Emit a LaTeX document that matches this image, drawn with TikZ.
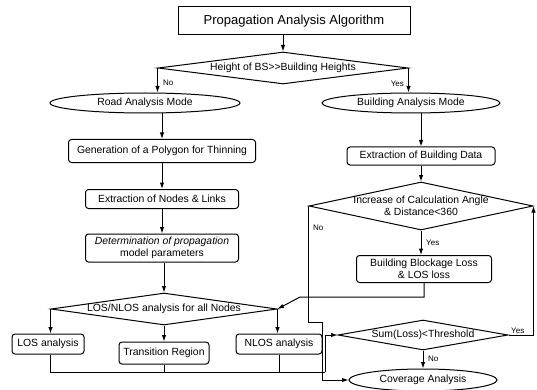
\documentclass[tikz,border=0pt]{standalone}
\usepackage{fontspec}
\setmainfont{Liberation Sans}
\usetikzlibrary{shapes.geometric, arrows.meta, positioning}

\tikzset{
    box/.style={draw, rounded corners=3pt, line width=1pt, inner sep=0pt, align=center},
    mode/.style={draw, ellipse, line width=1pt, inner sep=0pt},
    decide/.style={draw, diamond, line width=1pt, inner sep=0pt},
    flow/.style={line width=1pt, -{Latex[length=6.5pt,width=4.5pt]}},
    wire/.style={line width=1pt},
    tag/.style={font=\fontsize{8}{9}\selectfont, inner sep=1pt}
}

\begin{document}
\begin{tikzpicture}[x=1pt, y=-1pt, font=\fontsize{10.4}{12.5}\selectfont]
        \useasboundingbox (0,0) rectangle (537,390);

        % top
        \node[draw, line width=1pt, minimum width=232pt, minimum height=28pt, font=\fontsize{13}{15}\selectfont] (start) at (294,21) {Propagation Analysis Algorithm};
        \node[decide, minimum width=250pt, minimum height=32pt, label={center:Height of BS>\kern0pt>Building Heights}] (dBS) at (283,68) {};
        \node[mode, minimum width=190pt, minimum height=20pt] (road) at (145,103) {Road Analysis Mode};
        \node[mode, minimum width=178pt, minimum height=20pt] (bam) at (411,103) {Building Analysis Mode};

        % left column
        \node[box, minimum width=187pt, minimum height=23pt] (gen) at (162,151) {Generation of a Polygon for Thinning};
        \node[box, minimum width=153pt, minimum height=19pt] (enl) at (162,199) {Extraction of Nodes \& Links};
        \node[box, minimum width=153pt, minimum height=28pt] (det) at (162,248) {\itshape Determination of propagation\\model parameters};
        \node[decide, minimum width=226pt, minimum height=32pt, label={center:LOS/NLOS analysis for all Nodes}] (dLN) at (164,309) {};
        \node[box, minimum width=72pt, minimum height=20pt] (los) at (48,344) {LOS analysis};
        \node[box, minimum width=90pt, minimum height=22pt] (trn) at (164,353) {Transition Region};
        \node[box, minimum width=86pt, minimum height=20pt] (nlos) at (279,344) {NLOS analysis};

        % right column
        \node[box, minimum width=148pt, minimum height=18pt] (ebd) at (421,156) {Extraction of Building Data};
        \node[decide, minimum width=224pt, minimum height=48pt, label={[align=center]center:Increase of Calculation Angle\\\& Distance<360}] (dInc) at (421,206) {};
        \node[box, minimum width=135pt, minimum height=27pt] (bbl) at (424,269) {Building Blockage Loss\\\& LOS loss};
        \node[decide, minimum width=170pt, minimum height=30pt, label={center:Sum(Loss)<Threshold}] (dSum) at (423,335) {};
        \node[mode, minimum width=148pt, minimum height=22pt] (cov) at (423,380) {Coverage Analysis};

        % yes / no
        \node[tag, anchor=west] (no1) at (162,83) {No};
        \node[tag, anchor=east] (yes1) at (405,84) {Yes};
        \node[tag, anchor=west] (no2) at (312,228) {No};
        \node[tag, anchor=west] (yes2) at (425,243) {Yes};
        \node[tag, anchor=south west] (yes3) at (510,335) {Yes};
        \node[tag, anchor=west] (no3) at (427,359) {No};

        \coordinate (bend) at (300,297);
        \coordinate (jog) at (322,322);
        \coordinate (busR) at (325,372);

        \draw[flow] (dBS.north |- start.south) -- (dBS.north);
        \draw[flow] (dBS.west) -- (dBS.west |- road.north);
        \draw[flow] (dBS.east) -- (dBS.east |- bam.north);
        \draw[flow] (gen.north |- road.south) -- (gen.north);
        \draw[flow] (gen) -- (enl);
        \draw[flow] (enl) -- (det);
        \draw[flow] (det.south -| dLN.north) -- (dLN.north);
        \draw[flow] (dLN.west) -- (dLN.west |- los.north);
        \draw[flow] (dLN.south) -- (trn.north);
        \draw[flow] (dLN.east) -- (dLN.east |- nlos.north);
        \draw[wire] (dLN.west |- los.south) -- (dLN.west |- busR) -- (busR);
        \draw[wire] (trn.south) -- (trn.south |- busR);
        \draw[wire] (nlos.south) -- (nlos.south |- busR);
        \draw[flow] (busR) |- (dSum.west);

        \draw[flow] (ebd.north |- bam.south) -- (ebd.north);
        \draw[flow] (ebd) -- (dInc);
        \draw[flow] (dInc.south) -- (dInc.south |- bbl.north);
        \draw[flow] (bbl.south) -- (bbl.south |- bend) -- (bend) -- (dLN.east);
        \draw[flow] (dSum.east) -| (dInc.east);
        \draw[flow] (dSum.south) -- (cov.north);
        \draw[flow] (dInc.west) -- (dInc.west |- jog) -- (jog) -- (jog |- cov) -- (cov.west);
    \end{tikzpicture}
\end{document}
